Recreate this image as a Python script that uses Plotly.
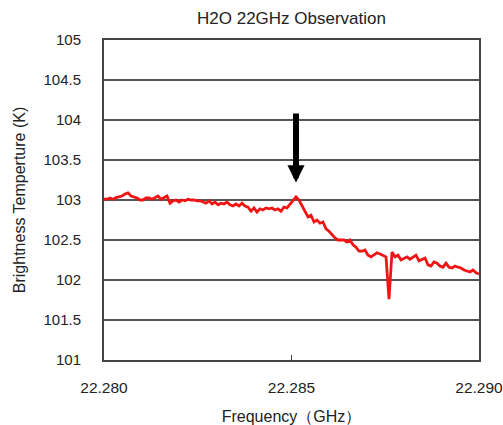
import numpy as np
import plotly.graph_objects as go

# Frequency channels (GHz), uniformly spaced
freq_start = 22.280
freq_step = 0.00008
n_points = 126
frequency_ghz = np.round(freq_start + freq_step * np.arange(n_points), 5)

# Brightness temperature (K)
brightness_k = [
    103.01, 103.01, 103.025, 103.01, 103.03, 103.04, 103.05, 103.075, 103.09, 103.05,
    103.04, 103.025, 103.0, 103.0, 103.025, 103.025, 103.01, 103.03, 103.05, 103.01,
    103.025, 103.05, 102.96, 102.99, 103.0, 102.975, 103.0, 102.99, 103.01, 103.0,
    103.0, 102.99, 102.99, 102.975, 102.96, 102.99, 102.95, 102.975, 102.94, 102.96,
    102.95, 102.975, 102.94, 102.925, 102.95, 102.925, 102.96, 102.925, 102.91, 102.86,
    102.9, 102.85, 102.89, 102.875, 102.9, 102.89, 102.9, 102.875, 102.89, 102.86,
    102.91, 102.9, 102.95, 103.0, 103.04, 103.0, 102.925, 102.85, 102.79, 102.81,
    102.725, 102.75, 102.71, 102.725, 102.64, 102.61, 102.56, 102.525, 102.5, 102.5,
    102.5, 102.475, 102.5, 102.44, 102.41, 102.36, 102.36, 102.375, 102.31, 102.29,
    102.31, 102.34, 102.325, 102.31, 102.29, 101.76, 102.35, 102.29, 102.31, 102.25,
    102.275, 102.29, 102.26, 102.29, 102.31, 102.24, 102.26, 102.275, 102.19, 102.175,
    102.225, 102.21, 102.175, 102.16, 102.21, 102.16, 102.15, 102.175, 102.16, 102.15,
    102.125, 102.11, 102.1, 102.125, 102.09, 102.075,
]

x_tickvals = [22.280, 22.285, 22.290]
x_ticktext = ["22.280", "22.285", "22.290"]
y_tickvals = [101, 101.5, 102, 102.5, 103, 103.5, 104, 104.5, 105]
y_ticktext = ["101", "101.5", "102", "102.5", "103", "103.5", "104", "104.5", "105"]

# Arrow marking the H2O line
arrow_freq = 22.28512
arrow_tip_k = 103.22
arrow_tail_k = 104.1

FONT = "Liberation Sans, Arial, sans-serif"
TXT = "#222222"

fig = go.Figure()
fig.add_trace(go.Scatter(
    x=frequency_ghz, y=brightness_k, mode="lines",
    line=dict(color="#f01515", width=2.8),
    hoverinfo="x+y", showlegend=False,
))

fig.add_annotation(
    x=arrow_freq, y=arrow_tip_k, ax=arrow_freq, ay=arrow_tail_k,
    xref="x", yref="y", axref="x", ayref="y",
    text="", showarrow=True, arrowhead=2, arrowwidth=6, arrowsize=0.57,
    arrowcolor="#000000", standoff=0, startstandoff=0,
)

fig.update_layout(
    width=503, height=425,
    margin=dict(l=104, r=24, t=40, b=65),
    paper_bgcolor="white", plot_bgcolor="white",
    font=dict(family=FONT, size=15, color=TXT),
    title=dict(text="H2O 22GHz Observation", x=0.5, xref="paper",
               y=1 - 18 / 425, yref="container", xanchor="center", yanchor="middle",
               font=dict(family=FONT, size=17, color=TXT), automargin=False),
)

fig.update_xaxes(
    range=[22.280, 22.290], tickvals=x_tickvals, ticktext=x_ticktext,
    showgrid=False, zeroline=False, automargin=False,
    showline=True, mirror=True, linecolor="#444444", linewidth=2,
    ticks="inside", ticklen=5, tickwidth=1, tickcolor="#444444",
    ticklabelstandoff=12, ticklabeloverflow="allow", tickfont=dict(size=15.5),
    title=dict(text="Frequency（GHz）", standoff=20, font=dict(family=FONT, size=16, color=TXT)),
)
fig.update_yaxes(
    range=[101, 105], tickvals=y_tickvals, ticktext=y_ticktext,
    showgrid=True, gridcolor="#555555", gridwidth=1.5, zeroline=False, automargin=False,
    showline=True, mirror=True, linecolor="#444444", linewidth=2,
    ticks="", ticklabelstandoff=18,
    title=dict(text="Brightness Temperture (K)", standoff=14, font=dict(family=FONT, size=16, color=TXT)),
)

fig.write_html(
    "out.html",
    config={"displayModeBar": False},
    post_script="document.body.style.margin='0';document.body.style.overflow='hidden';",
)
